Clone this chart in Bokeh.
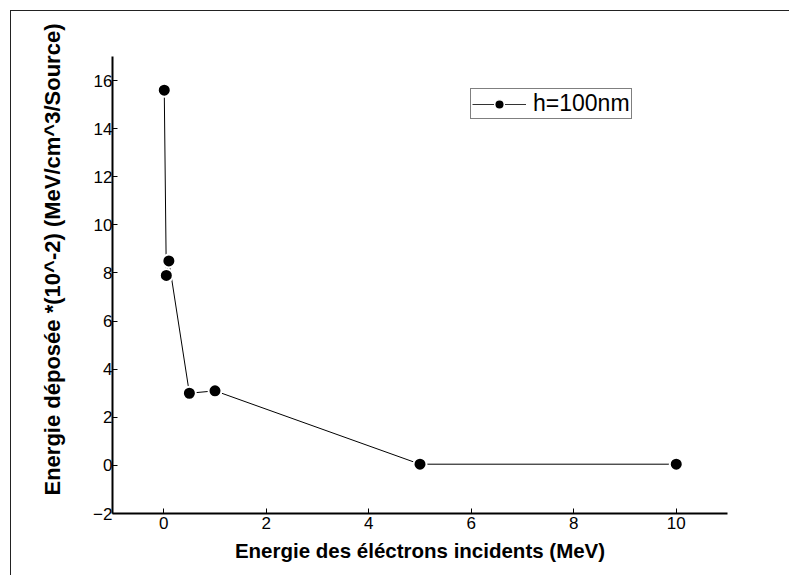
from bokeh.plotting import figure
from bokeh.models import Range1d, Legend, LegendItem, Title
from bokeh.embed import file_html
from bokeh.resources import INLINE

energy = [0.01, 0.05, 0.1, 0.5, 1.0, 5.0, 10.0]
deposit = [15.6, 7.9, 8.5, 3.0, 3.1, 0.05, 0.05]
series_name = "h=100nm"
x_ticks = [0, 2, 4, 6, 8, 10]
y_ticks = [-2, 0, 2, 4, 6, 8, 10, 12, 14, 16]
x_title = "Energie des éléctrons incidents (MeV)"
y_title = "Energie déposée *(10^-2) (MeV/cm^3/Source)"

FONT = "Liberation Sans"
NAN = float("nan")

p = figure(frame_width=615, frame_height=457,
           x_range=Range1d(-1, 11), y_range=Range1d(-2, 17),
           output_backend="svg", toolbar_location=None,
           min_border_left=101, min_border_right=62,
           min_border_top=45, min_border_bottom=62,
           margin=(10, 0, 0, 10),
           styles={"border-left": "1px solid #222", "border-top": "1px solid #222"})
p.outline_line_color = None
p.grid.visible = False
p.background_fill_color = "white"
p.border_fill_color = "white"

line_r = p.line(energy, deposit, line_color="black", line_width=1)
pts_r = p.scatter(energy, deposit, size=13, fill_color="black",
                  line_color="white", line_width=2)

# legend sample renderers (a single undrawn NaN point) styled for the legend box
leg_line = p.line([NAN], [NAN], line_color="#333333", line_width=1)
leg_pts = p.scatter([NAN], [NAN], fill_color="black", line_color="white", line_width=1.5)

for ax in (p.xaxis[0], p.yaxis[0]):
    ax.axis_line_width = 2
    ax.axis_line_color = "black"
    ax.major_tick_in = 5
    ax.major_tick_out = 0
    ax.minor_tick_in = 3
    ax.minor_tick_out = 0
    ax.major_tick_line_color = "black"
    ax.minor_tick_line_color = "black"
    ax.major_label_text_font = FONT
    ax.major_label_text_font_size = "17px"
    ax.major_label_text_color = "black"
    ax.axis_label_text_font = FONT
    ax.axis_label_text_font_size = "20.5px"
    ax.axis_label_text_font_style = "bold"
    ax.axis_label_text_color = "black"

p.xaxis[0].ticker = x_ticks
p.yaxis[0].ticker = y_ticks
p.xaxis[0].ticker.num_minor_ticks = 2
p.yaxis[0].ticker.num_minor_ticks = 2
p.xaxis[0].major_label_standoff = 3
p.yaxis[0].major_label_standoff = 0
p.xaxis[0].axis_label = x_title
p.xaxis[0].axis_label_standoff = 7

ytitle = Title(text=y_title, align="left", offset=18, standoff=52,
               text_font=FONT, text_font_size="22px", text_font_style="bold",
               text_color="black")
p.add_layout(ytitle, "left")

legend = Legend(items=[LegendItem(label=series_name, renderers=[leg_line, leg_pts])],
                location=(358, 394))
legend.label_text_font = FONT
legend.label_text_font_size = "23px"
legend.label_text_color = "black"
legend.glyph_width = 54
legend.glyph_height = 24
legend.label_standoff = 7
legend.padding = 1
legend.margin = 0
legend.spacing = 0
legend.border_line_color = "black"
legend.border_line_width = 1
legend.background_fill_alpha = 1
p.add_layout(legend)

open("out.html", "w").write(file_html(p, INLINE))
